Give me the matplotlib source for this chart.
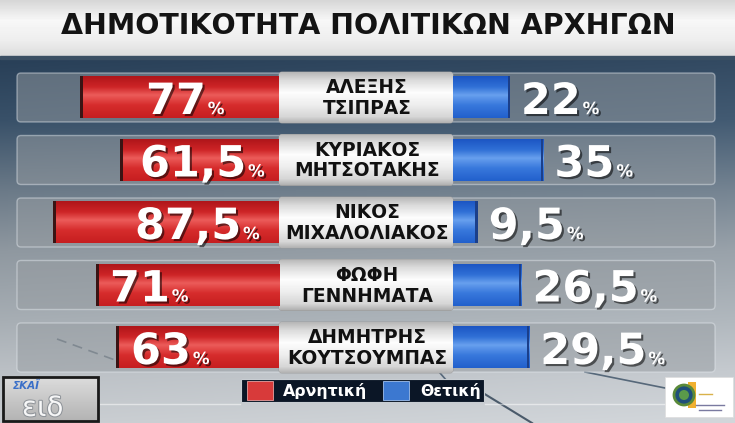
import matplotlib
matplotlib.use('Agg')
import matplotlib.pyplot as plt
import matplotlib.patheffects as pe
from matplotlib.patches import FancyBboxPatch, Rectangle, Circle
import numpy as np

# data
title = 'ΔΗΜΟΤΙΚΟΤΗΤΑ ΠΟΛΙΤΙΚΩΝ ΑΡΧΗΓΩΝ'
first_names = ['ΑΛΕΞΗΣ', 'ΚΥΡΙΑΚΟΣ', 'ΝΙΚΟΣ', 'ΦΩΦΗ', 'ΔΗΜΗΤΡΗΣ']
last_names = ['ΤΣΙΠΡΑΣ', 'ΜΗΤΣΟΤΑΚΗΣ', 'ΜΙΧΑΛΟΛΙΑΚΟΣ', 'ΓΕΝΝΗΜΑΤΑ', 'ΚΟΥΤΣΟΥΜΠΑΣ']
negative = [77, 61.5, 87.5, 71, 63]
positive = [22, 35, 9.5, 26.5, 29.5]
legend_labels = ['Αρνητική', 'Θετική']

# layout (pixels)
W, H = 735, 423
PX = 2.58                 # pixels per percent
RED_END = 279             # right edge of red bars
BLUE_START = 453          # left edge of blue bars
row_y = 97.5 + 62.5 * np.arange(len(negative))
neg_text_px = [146, 140, 135, 110, 131]
L = (BLUE_START - RED_END) / PX   # label box width in percent units

def fmt(v):
    return ('%g' % v).replace('.', ',')

fig = plt.figure(figsize=(W / 100, H / 100), dpi=100)
ax = fig.add_axes([0, 0, 1, 1])
ax.set_xlim(0, W)
ax.set_ylim(H, 0)
ax.axis('off')

# background
yy = np.arange(H)
stops = [57, 120, 190, 250, 320, 370, 423]
cols = np.array([[45, 68, 92], [62, 86, 110], [112, 127, 141], [148, 157, 165],
                 [172, 179, 185], [192, 197, 202], [206, 210, 214]]) / 255
bg = np.stack([np.interp(yy, stops, cols[:, k]) for k in range(3)], axis=1)
bg = np.repeat(bg[:, None, :], W, axis=1)
xx = np.linspace(0, 1, W)
bg = np.clip(bg + 0.04 * xx[None, :, None] - 0.02, 0, 1)
ax.imshow(bg, extent=[0, W, H, 0], aspect='auto', zorder=0)

# title band
band = np.interp(np.arange(57), [0, 20, 40, 56], [0.84, 0.97, 0.93, 0.86])
ax.imshow(np.repeat(band[:, None], W, axis=1), cmap='gray', vmin=0, vmax=1,
          extent=[0, W, 57, 0], aspect='auto', zorder=1)
ax.add_patch(Rectangle((0, 56), W, 3, color='#3b4f63', zorder=2))
ax.text(368, 33.5, title, ha='center', va='baseline', fontsize=20.5,
        fontweight='bold', color='#141414', zorder=3)

# decorative background lines
ax.plot([483, 532], [393, 423], color='#4a5a6a', lw=1.5, zorder=1)
ax.plot([585, 665], [372, 388], color='#56687a', lw=1.2, zorder=1)
ax.plot([440, 447], [373, 381], color='#56687a', lw=1.2, zorder=1)
ax.plot([100, 240], [404, 404], color='white', lw=1, alpha=0.5, zorder=1)
ax.plot([485, 665], [404, 404], color='white', lw=1, alpha=0.5, zorder=1)
ax.plot([57, 115], [339, 360], color='#3a4a5a', lw=1.2, ls=(0, (6, 4)), alpha=0.6, zorder=1)

# row panels and label boxes
lab_grad = np.interp(np.arange(51), [0, 8, 20, 32, 44, 50], [0.72, 0.86, 0.99, 0.93, 0.84, 0.70])
for i, y in enumerate(row_y):
    ax.add_patch(FancyBboxPatch((17, y - 24.5), 698, 49, boxstyle='round,pad=0,rounding_size=4',
                                fc=(0.59, 0.61, 0.63, 0.5), ec=(0.9, 0.92, 0.94, 0.45), lw=1, zorder=2))
    box = FancyBboxPatch((RED_END, y - 25.5), BLUE_START - RED_END, 51,
                         boxstyle='round,pad=0,rounding_size=3', fc='#e6e6e6', ec='#9a9a9a', lw=0.6, zorder=4)
    ax.add_patch(box)
    im = ax.imshow(np.repeat(lab_grad[:, None], 10, axis=1), cmap='gray', vmin=0, vmax=1,
                   extent=[RED_END, BLUE_START, y + 25.5, y - 25.5], aspect='auto', zorder=4)
    im.set_clip_path(box)
    cx = (RED_END + BLUE_START) / 2 + 1
    ax.text(cx, y - 4.2, first_names[i], ha='center', va='baseline', fontsize=13.4,
            fontweight='bold', color='#111111', zorder=5)
    ax.text(cx, y + 16.5, last_names[i], ha='center', va='baseline', fontsize=13.4,
            fontweight='bold', color='#111111', zorder=5)

# bars in percent units on an overlay axes
axb = fig.add_axes([0, 0, 1, 1])
axb.patch.set_alpha(0)
axb.axis('off')
x_lo = -RED_END / PX
x_hi = L + (W - BLUE_START) / PX
red = axb.barh(row_y, [-v for v in negative], height=42, left=0, color='#d02a2a', zorder=3)
blue = axb.barh(row_y, positive, height=42, left=L, color='#2f6fd0', zorder=3)

red_grad = np.array([[176, 22, 26], [205, 36, 38], [236, 92, 90], [214, 44, 44], [198, 30, 32]]) / 255
blue_grad = np.array([[28, 86, 196], [48, 112, 214], [104, 160, 238], [56, 120, 220], [34, 96, 204]]) / 255
gy = np.linspace(0, 1, 40)
def grad_img(c):
    g = np.stack([np.interp(gy, [0, 0.25, 0.45, 0.7, 1], c[:, k]) for k in range(3)], axis=1)
    return g[:, None, :]

for patch in list(red) + list(blue):
    c = red_grad if patch in red.patches else blue_grad
    bb = patch.get_bbox()
    im = axb.imshow(grad_img(c), extent=[bb.x0, bb.x1, bb.y1, bb.y0], aspect='auto', zorder=3)
    im.set_clip_path(patch)

# dark edges at bar ends
axb.barh(row_y, 1.1, height=42, left=[-v for v in negative], color='#3a1414', zorder=4)
axb.barh(row_y, 0.8, height=42, left=[L + v - 0.8 for v in positive], color='#1b3f8a', zorder=4)

axb.set_xlim(x_lo, x_hi)
axb.set_ylim(H, 0)

# value labels on a top axes (pixel coordinates)
axt = fig.add_axes([0, 0, 1, 1])
axt.patch.set_alpha(0)
axt.axis('off')
axt.set_xlim(0, W)
axt.set_ylim(H, 0)

shadow = [pe.SimplePatchShadow(offset=(1.5, -1.5), shadow_rgbFace='black', alpha=0.55), pe.Normal()]
num_font = dict(family=['DejaVu Sans'], fontweight='bold', color='white')

nums = []
for i, y in enumerate(row_y):
    t1 = axt.text(neg_text_px[i], y + 16.5, fmt(negative[i]), ha='left', va='baseline',
                  fontsize=31, zorder=6, path_effects=shadow, **num_font)
    t2 = axt.text(L + positive[i] + 4.3, y + 16.5, fmt(positive[i]), ha='left', va='baseline',
                  fontsize=31, zorder=6, path_effects=shadow, transform=axb.transData, **num_font)
    nums += [(t1, y), (t2, y)]

fig.canvas.draw()
rend = fig.canvas.get_renderer()
inv = axt.transData.inverted()
for t, y in nums:
    bb = t.get_window_extent(rend)
    x1 = inv.transform((bb.x1, bb.y0))[0]
    axt.text(x1 + 2, y + 16.5, '%', ha='left', va='baseline', fontsize=12, zorder=6,
             path_effects=shadow, **num_font)

# legend
ax.add_patch(Rectangle((241, 379), 243, 23, fc='#0b1626', ec='#c8cdd2', lw=0.8, zorder=5))
ax.add_patch(Rectangle((247, 381), 26, 19, fc='#d83a3a', ec='#e8a0a0', lw=0.6, zorder=6))
ax.add_patch(Rectangle((383, 381), 26, 19, fc='#3c78d0', ec='#a0c0ee', lw=0.6, zorder=6))
ax.text(283, 395.7, legend_labels[0], ha='left', va='baseline', fontsize=11.3,
        fontweight='bold', color='white', zorder=6)
ax.text(420, 395.7, legend_labels[1], ha='left', va='baseline', fontsize=11.3,
        fontweight='bold', color='white', zorder=6)

# channel logo bottom left
logo = np.interp(np.arange(44), [0, 22, 43], [0.86, 0.78, 0.70])
ax.imshow(np.repeat(logo[:, None], 10, axis=1), cmap='gray', vmin=0, vmax=1,
          extent=[3, 98, 421, 377], aspect='auto', zorder=5)
ax.add_patch(Rectangle((3, 377), 95, 44, fill=False, ec='#1a1a1a', lw=2, zorder=6))
ax.text(13, 389, 'ΣΚΑΪ', fontsize=7.5, fontweight='bold', style='italic', color='#3a6fc8', zorder=6)
ax.text(22, 416, 'ειδ', fontsize=20, color='white', alpha=0.9, zorder=6,
        path_effects=[pe.withStroke(linewidth=1.5, foreground='#8a8f95')])

# sponsor logo bottom right
ax.add_patch(Rectangle((665, 377), 68, 40, fc='white', ec='#dddddd', lw=0.5, zorder=5))
ax.add_patch(Rectangle((688, 382), 8, 26, fc='#f0b030', zorder=6))
ax.add_patch(Circle((684, 395), 10, fc='#1f4f7a', ec='#5a8a3a', lw=2, zorder=7))
ax.add_patch(Circle((684, 395), 5, fc='#5a9a4a', zorder=8))
ax.plot([699, 712], [394, 394], color='#d9b24a', lw=1, zorder=6)
ax.plot([696, 724], [405, 405], color='#7a7aa0', lw=1, zorder=6)
ax.plot([699, 721], [410, 410], color='#7a7aa0', lw=1, zorder=6)

fig.savefig('out.png', dpi=100)
